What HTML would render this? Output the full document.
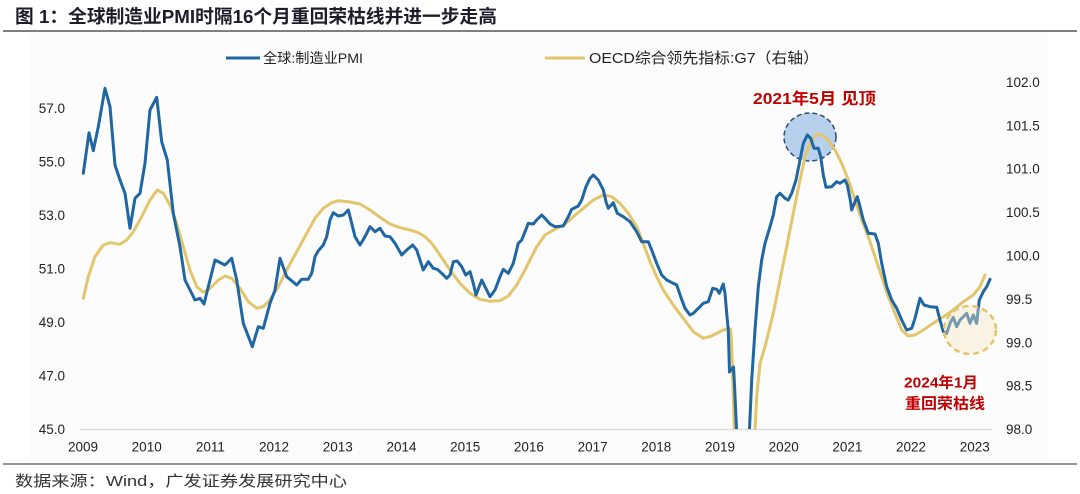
<!DOCTYPE html>
<html>
<head>
<meta charset="utf-8">
<style>
html,body{margin:0;padding:0;background:#fff;}
svg{display:block;}
text{font-family:"Liberation Sans","Noto Sans CJK SC",sans-serif;}
</style>
</head>
<body>
<svg width="1080" height="494" viewBox="0 0 1080 494" xmlns="http://www.w3.org/2000/svg">
<rect x="0" y="0" width="1080" height="494" fill="#ffffff"/>
<rect x="30" y="33" width="1017" height="428" fill="#fcfcfc"/>
<!-- title -->
<text x="15" y="23" font-size="18.5" font-weight="bold" fill="#1c1c2a" textLength="482" lengthAdjust="spacingAndGlyphs">图 1：全球制造业PMI时隔16个月重回荣枯线并进一步走高</text>
<line x1="3" y1="31" x2="1077" y2="31" stroke="#555" stroke-width="1.5"/>

<!-- legend -->
<line x1="226" y1="58" x2="260" y2="58" stroke="#1f66a3" stroke-width="3"/>
<text x="263" y="63" font-size="14" fill="#222" textLength="100" lengthAdjust="spacingAndGlyphs">全球:制造业PMI</text>
<line x1="545" y1="58" x2="585" y2="58" stroke="#e3c56b" stroke-width="3"/>
<text x="589" y="63" font-size="15" fill="#222" textLength="230" lengthAdjust="spacingAndGlyphs">OECD综合领先指标:G7（右轴）</text>

<!-- axis -->
<line x1="80" y1="429.5" x2="992" y2="429.5" stroke="#d9d9d9" stroke-width="1.2"/>

<!-- left ticks -->
<g font-size="13.5" fill="#222" text-anchor="end">
<text x="65" y="113">57.0</text>
<text x="65" y="166.5">55.0</text>
<text x="65" y="220">53.0</text>
<text x="65" y="273.5">51.0</text>
<text x="65" y="327">49.0</text>
<text x="65" y="380.5">47.0</text>
<text x="65" y="434">45.0</text>
</g>
<!-- right ticks -->
<g font-size="13.5" fill="#222" text-anchor="start">
<text x="1006" y="87">102.0</text>
<text x="1006" y="130.5">101.5</text>
<text x="1006" y="173.5">101.0</text>
<text x="1006" y="217">100.5</text>
<text x="1006" y="260.5">100.0</text>
<text x="1006" y="304">99.5</text>
<text x="1006" y="347.5">99.0</text>
<text x="1006" y="390.5">98.5</text>
<text x="1006" y="434">98.0</text>
</g>
<!-- x ticks -->
<g font-size="13.5" fill="#222" text-anchor="middle">
<text x="83" y="451.5">2009</text>
<text x="146.7" y="451.5">2010</text>
<text x="210.4" y="451.5">2011</text>
<text x="274" y="451.5">2012</text>
<text x="337.8" y="451.5">2013</text>
<text x="401.5" y="451.5">2014</text>
<text x="465.2" y="451.5">2015</text>
<text x="528.9" y="451.5">2016</text>
<text x="592.6" y="451.5">2017</text>
<text x="656.3" y="451.5">2018</text>
<text x="720" y="451.5">2019</text>
<text x="783.7" y="451.5">2020</text>
<text x="847.4" y="451.5">2021</text>
<text x="911" y="451.5">2022</text>
<text x="974.8" y="451.5">2023</text>
</g>

<defs>
<clipPath id="plot"><rect x="75" y="40" width="925" height="389"/></clipPath>
</defs>

<!-- blue highlight circle (beneath lines) -->
<ellipse cx="810" cy="137" rx="26" ry="24" fill="#b7d1ec" stroke="#2e4a7a" stroke-width="1.5" stroke-dasharray="5,3"/>

<g clip-path="url(#plot)" fill="none" stroke-linejoin="round" stroke-linecap="round" stroke-width="3">
<polyline stroke="#e3c56b" points="83.3,298.3 88.3,276.7 95,256.7 103.3,245 110,242.7 120,244.3 126.7,240 133.3,231.7 141.7,216.7 150,200 157.3,190 163.3,193.3 170,205 176.7,223.3 183.3,246.7 190,270 196.7,286.7 203.3,292.3 210,288.3 218.3,280 225,276 231.7,278.3 240,288.3 248.3,301.7 256.7,308.3 263.3,306.7 270,300 278.3,286.7 286.7,270 296.7,251.7 306.7,233.3 315,218.3 323.3,208.3 331.7,202.7 338.3,200.7 348.3,201.7 360,204 370,210 380,217.3 390,224 400,227.7 410,230 418.3,232.7 425,236.7 431.7,243.3 440,255 450,270 460,283.3 470,293.3 480,299.3 490,301.3 500,300.7 508.3,296 516.7,285 525,270 530,260 536.7,246.7 545,235 555,229.3 565,224 573.3,216.7 583.3,208.3 593.3,200 603.3,195 611.7,196.7 620,203.3 628.3,213.3 636.7,226.7 643.3,243.3 650,261.7 656.7,276.7 663.3,290 673.3,305 683.3,318.3 693.3,331.7 703.3,338.3 711.7,336 721.7,330.7 728.3,328.3 730.7,329.3 731.7,346.7 733.3,396.7 734.7,440"/>
<polyline stroke="#e3c56b" points="754.5,440 756.7,396.7 760,363.3 765,346.7 773.3,313.3 780,280 786.7,246.7 793.3,213.3 800,180 805,156.7 810,143.3 816.7,134 821.7,135 828.3,140 835,150 841.7,163.3 848.3,180 855,200 861.7,220 868.3,236.7 875,256.7 881.7,276.7 888.3,296.7 895,313.3 901.7,330 908.3,336 915,335 923.3,330 933.3,323.3 943.3,316.7 953.3,310 963.3,301.7 973.3,295 980,286.7 985,275"/>
<polyline stroke="#1f66a3" points="83.3,173.3 89,132.7 93.3,150.7 98.3,126.7 105,88.3 110,106.7 115,165 120,180 125,193.3 130,228.3 135,198.3 140,193.3 145,163.3 150,110 156.7,97.3 161.7,141.7 167.3,160 173.3,213.3 180,246.7 185,280 195,300 200,298.3 204,304 208.3,286.7 215,260 225,265 231.7,258.3 236.7,280 243.3,323.3 252.3,346.7 258.3,326.7 263.3,328.3 270,303.3 275,290 280,258.3 286.7,276.7 296.7,285 301.7,279.3 308.3,279.3 311.7,273.3 315,256.7 318.3,250.7 323.3,245 326.7,236.7 330,220 333.3,212.7 338.3,216 343.3,215 348.3,210 351.7,223.3 355,236.7 360,245 365,236.7 370,226.7 375,231.7 380,228.3 385,236 390,236.7 395,243.3 401.7,255 406.7,250 412.7,245 416.7,250 420,260 423.3,270 428.3,261.7 433.3,268.3 437.3,269.3 441.7,273.3 446.7,278.3 450,275 453.3,261.7 457.3,261 461.7,266.7 465.7,275 470,271.7 473.3,283.3 476,295 481.7,280 485,286.7 490,296.7 495,290 500,276.7 503.3,269.3 508.3,273.3 513.3,263.3 518.3,243.3 521.7,240 525,231.7 528.3,223.3 533.3,224 536.7,220 541.7,215 545,218.3 550,224 555,226.7 563.3,226 568.3,216.7 571.7,209.3 578.3,206 581.7,200 586,186.7 590,178.3 593.3,175 598.3,180 603.3,190 606,201.7 608.3,208.3 613.3,202.7 617.3,213.3 623.3,216.7 630,221.7 636.7,231.7 641.7,241.7 648.3,241.7 651.7,250 656.7,263.3 661.7,275 666.7,280 673.3,283.3 676.7,285 680.7,296.7 685,308.3 690,315 693.3,313.3 698.3,308.3 703.3,303.3 708.3,301.7 712.7,288.3 716.7,289.3 719.3,293.3 723.3,284 725,293.3 726.7,313.3 728.3,330 729.5,372 733.5,367 734.5,385 737,440"/>
<polyline stroke="#1f66a3" points="749,440 751.7,380 755,330 758.3,286.7 761.7,260 765,243.3 770,226.7 773.3,215 776.7,196.7 780,193.3 785,198.3 788.3,200 791.7,193.3 796,180 800,160 803.3,143.3 807.3,135 810.7,138.3 814,148.3 818.3,148.3 820.7,156.7 823.3,175 826,187.3 831.7,186.7 836.7,181.7 840,183.3 845,180 847.3,185 850,198.3 851.7,210 855,201.7 857.3,196.7 860,206.7 863.3,220 868.3,233.3 875,234 878.3,243.3 881.7,263.3 886.7,286.7 891.7,300 896.7,308.3 901.7,320 906.7,330 911.7,328.3 915,318.3 920,298.3 924,305 930,306.7 936.7,307.3 940,320 943.3,331.7 946.7,333.3 950,323.3 953.3,317.3 956.7,326.7 960,320 966.7,313.3 970,323.3 973.3,315 976.7,323.3 979.3,300 983.3,291.7 986.7,286.7 990,279.3"/>
</g>

<!-- yellow highlight circle (over lines) -->
<ellipse cx="970" cy="330" rx="26" ry="24" fill="#f8e7bd" fill-opacity="0.4" stroke="#e3c56b" stroke-width="2.5" stroke-dasharray="6,4"/>

<!-- annotations -->
<text x="753" y="104" font-size="16" font-weight="bold" fill="#c00000" textLength="123" lengthAdjust="spacingAndGlyphs">2021年5月 见顶</text>
<text x="904" y="387.5" font-size="15" font-weight="bold" fill="#c00000" textLength="74" lengthAdjust="spacingAndGlyphs">2024年1月</text>
<text x="905" y="408.5" font-size="15" font-weight="bold" fill="#c00000" font-family="'Liberation Serif','Noto Serif CJK SC',serif" textLength="80" lengthAdjust="spacingAndGlyphs">重回荣枯线</text>

<!-- footer -->
<line x1="3" y1="464" x2="1077" y2="464" stroke="#555" stroke-width="1.2"/>
<text x="15" y="486" font-size="15" fill="#333" font-family="'Liberation Sans','Noto Serif CJK SC',serif" textLength="332" lengthAdjust="spacingAndGlyphs">数据来源：Wind，广发证券发展研究中心</text>
</svg>
</body>
</html>
